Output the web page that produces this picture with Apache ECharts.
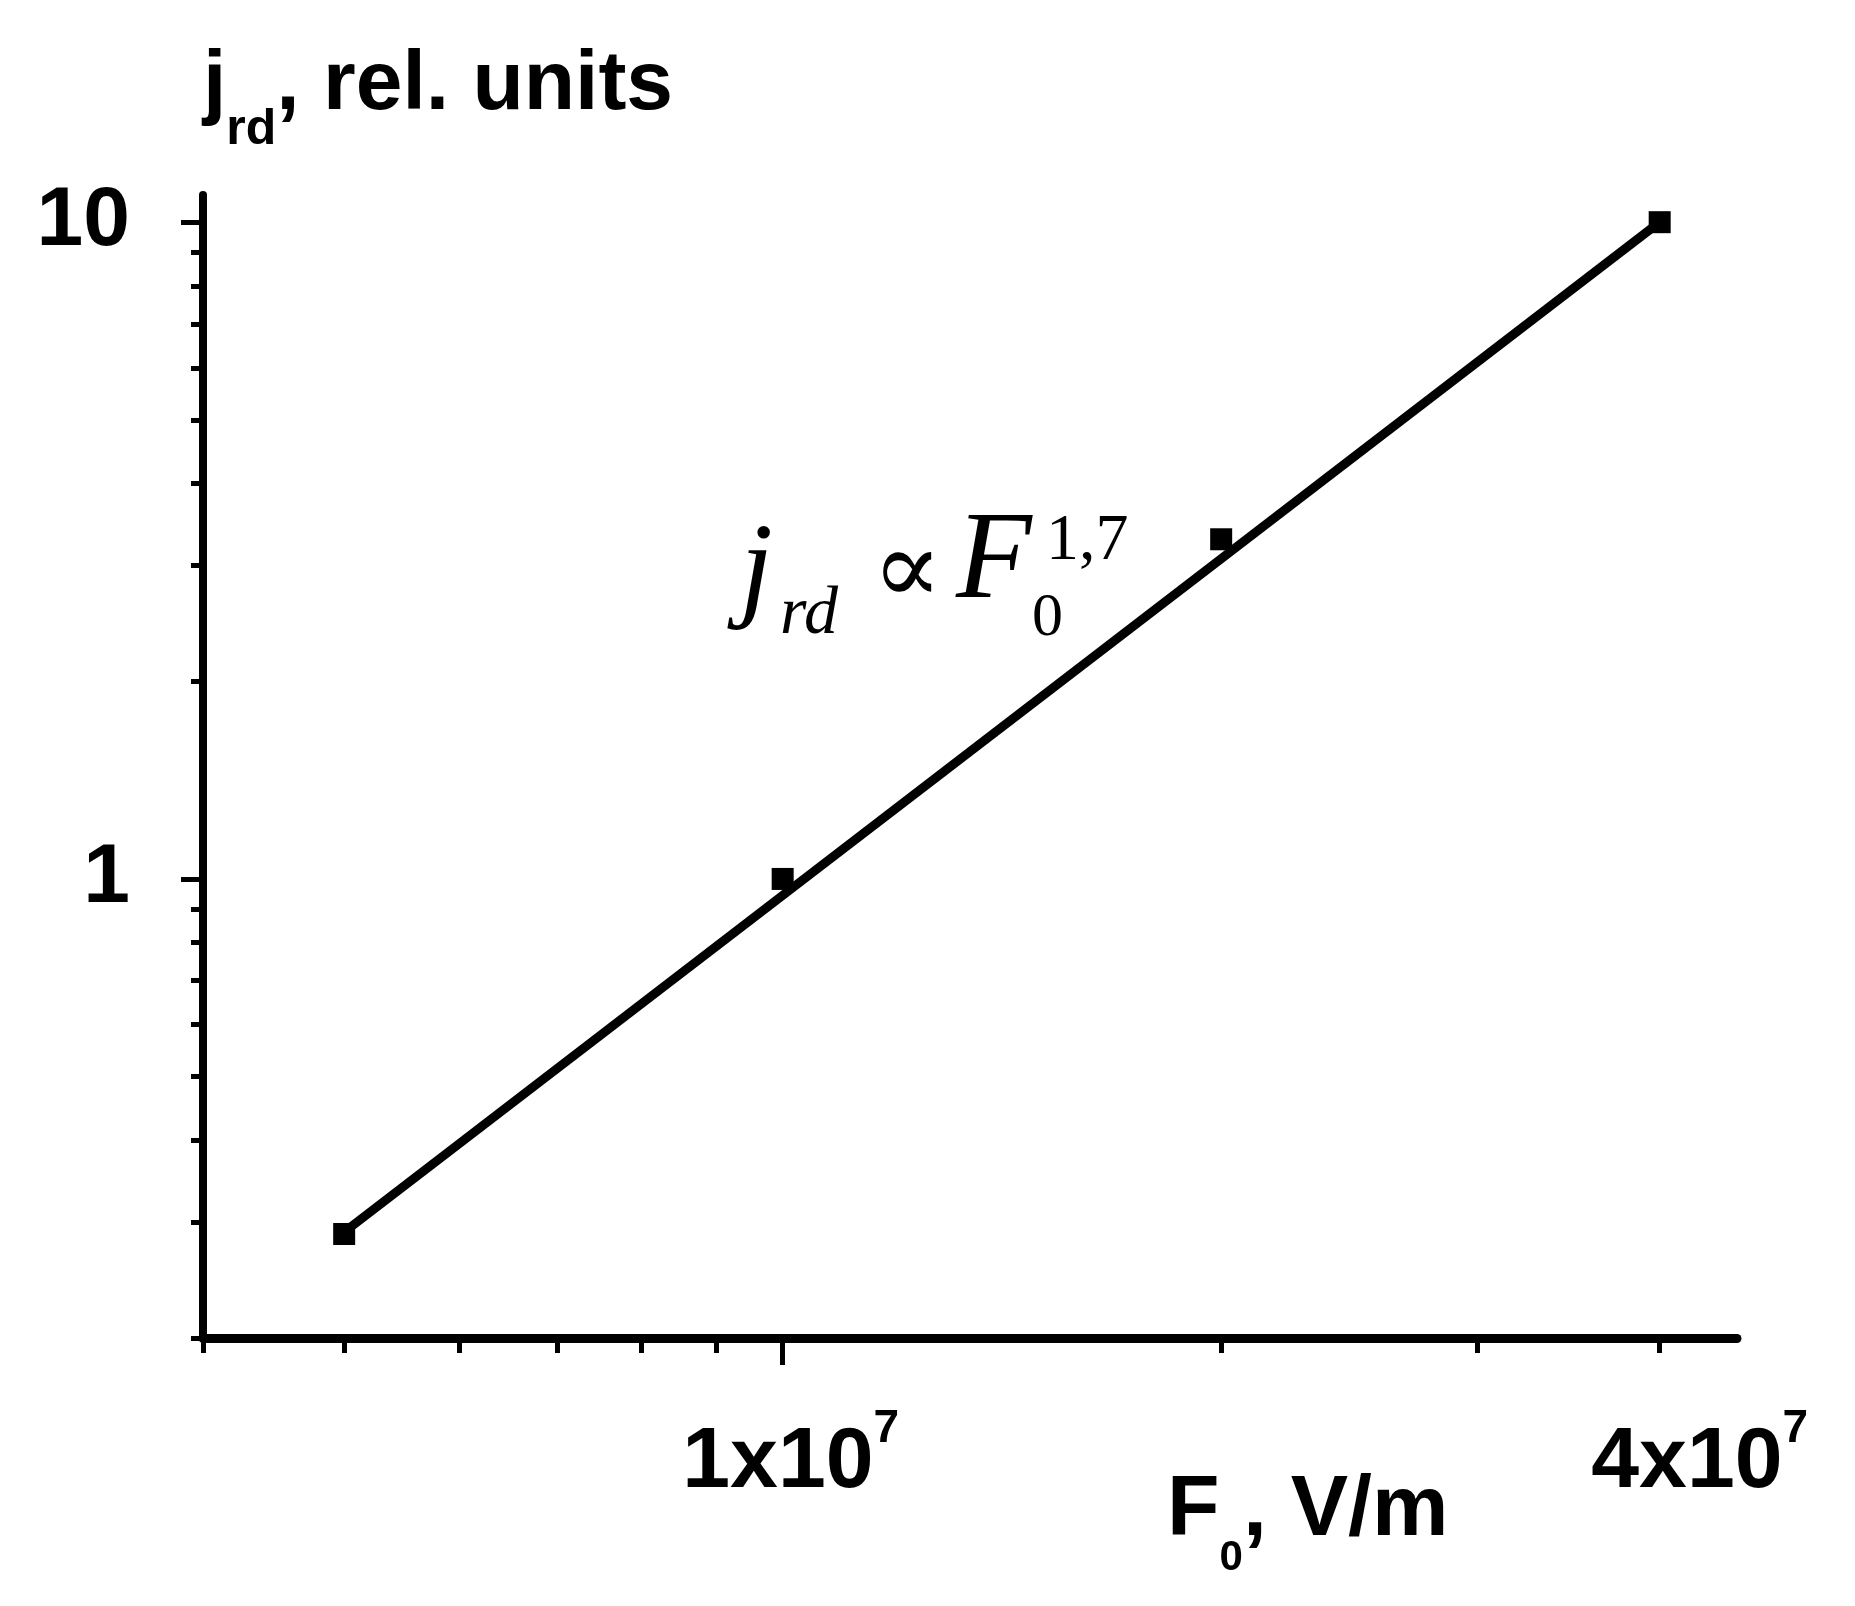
<!DOCTYPE html>
<html>
<head>
<meta charset="utf-8">
<title>j_rd vs F0</title>
<script src="https://cdn.jsdelivr.net/npm/echarts@6/dist/echarts.min.js"></script>
<style>
  html, body { margin: 0; padding: 0; background: #fff; }
  #chart { width: 1855px; height: 1606px; }
</style>
</head>
<body>
<div id="chart"></div>
<script>
// measured points, F0 in V/m, j_rd in rel. units
const fieldValues = [5e6, 1e7, 2e7, 4e7];
const currentValues = [0.288, 1.0, 3.29, 10.0];
// fitted power law j ~ F^1.7 (end points of the drawn line)
const fitField = [5e6, 4e7];
const fitCurrent = [0.29, 10.0];

// axis ranges
const xRange = [4e6, 4.52e7];
const yRange = [0.2, 11];

// tick labels and ticks
const xLabelValues = [1e7, 4e7];
const xMajorTicks = [1e7];
const xMinorTicks = [4e6, 5e6, 6e6, 7e6, 8e6, 9e6, 2e7, 3e7, 4e7];
const yLabelValues = [1, 10];
const yMajorTicks = [1, 10];
const yMinorTicks = [0.2, 0.3, 0.4, 0.5, 0.6, 0.7, 0.8, 0.9, 2, 3, 4, 5, 6, 7, 8, 9];

const lg = Math.log10;
const SANS = 'Arial, "Liberation Sans", sans-serif';
const SERIF = '"Times New Roman", "Liberation Serif", "DejaVu Serif", serif';

var myChart = echarts.init(document.getElementById('chart'));

var option = {
  animation: false,
  backgroundColor: '#fff',
  grid: {
    left: 203,
    right: 118,
    top: 195,
    bottom: 268,
    containLabel: false,
    outerBoundsMode: 'none'
  },
  xAxis: [{
    type: 'value',
    min: lg(xRange[0]),
    max: lg(xRange[1]),
    position: 'bottom',
    splitLine: { show: false },
    axisLine: { onZero: false, lineStyle: { color: '#000', width: 9 } },
    axisTick: { customValues: xMajorTicks.map(lg), length: 27, lineStyle: { color: '#000', width: 5 } },
    axisLabel: {
      customValues: xLabelValues.map(lg),
      margin: 68,
      padding: [0, 0, 0, 16],
      formatter: function (v) {
        var e = Math.floor(v + 1e-9);
        var m = Math.round(Math.pow(10, v - e));
        // the last label sits a bit further right in the original
        var k = m === 1 ? 'm' : 'mr';
        return '{' + k + '|' + m + 'x10}{s|' + e + '}';
      },
      rich: {
        m: { fontFamily: SANS, fontWeight: 'bold', fontSize: 86, lineHeight: 100, verticalAlign: 'bottom', color: '#000' },
        mr: { fontFamily: SANS, fontWeight: 'bold', fontSize: 86, lineHeight: 100, verticalAlign: 'bottom', color: '#000', padding: [0, 0, 0, 64] },
        s: { fontFamily: SANS, fontWeight: 'bold', fontSize: 46, lineHeight: 23, verticalAlign: 'top', color: '#000' }
      }
    },
    name: '{f|F}{sub|0}{t|, V/m}',
    nameLocation: 'end',
    nameGap: -570,
    nameMoveOverlap: false,
    nameTextStyle: {
      align: 'left',
      verticalAlign: 'top',
      padding: [130, 0, 0, 0],
      rich: {
        f: { fontFamily: SANS, fontWeight: 'bold', fontSize: 86, lineHeight: 86, verticalAlign: 'top', color: '#000' },
        sub: { fontFamily: SANS, fontWeight: 'bold', fontSize: 42, lineHeight: 111, verticalAlign: 'bottom', color: '#000' },
        t: { fontFamily: SANS, fontWeight: 'bold', fontSize: 86, lineHeight: 86, verticalAlign: 'top', color: '#000' }
      }
    }
  }, {
    // minor ticks of F0
    type: 'value',
    min: lg(xRange[0]),
    max: lg(xRange[1]),
    position: 'bottom',
    splitLine: { show: false },
    axisLine: { show: false, onZero: false },
    axisTick: { customValues: xMinorTicks.map(lg), length: 15, lineStyle: { color: '#000', width: 5 } },
    axisLabel: { show: false }
  }],
  yAxis: [{
    type: 'value',
    min: lg(yRange[0]),
    max: lg(yRange[1]),
    position: 'left',
    splitLine: { show: false },
    axisLine: { onZero: false, lineStyle: { color: '#000', width: 8 } },
    axisTick: { customValues: yMajorTicks.map(lg), length: 22, lineStyle: { color: '#000', width: 5 } },
    axisLabel: {
      customValues: yLabelValues.map(lg),
      margin: 73,
      color: '#000',
      fontFamily: SANS,
      fontWeight: 'bold',
      fontSize: 84,
      formatter: function (v) {
        return String(Math.round(Math.pow(10, v)));
      }
    },
    name: '{j|j}{sub|rd}{t|, rel. units}',
    nameLocation: 'end',
    nameGap: 151,
    nameMoveOverlap: false,
    nameTextStyle: {
      align: 'left',
      verticalAlign: 'top',
      rich: {
        j: { fontFamily: SANS, fontWeight: 'bold', fontSize: 84, lineHeight: 84, verticalAlign: 'top', color: '#000' },
        sub: { fontFamily: SANS, fontWeight: 'bold', fontSize: 50, lineHeight: 111, verticalAlign: 'bottom', color: '#000' },
        t: { fontFamily: SANS, fontWeight: 'bold', fontSize: 84, lineHeight: 84, verticalAlign: 'top', color: '#000' }
      }
    }
  }, {
    // minor ticks of j_rd
    type: 'value',
    min: lg(yRange[0]),
    max: lg(yRange[1]),
    position: 'left',
    splitLine: { show: false },
    axisLine: { show: false, onZero: false },
    axisTick: { customValues: yMinorTicks.map(lg), length: 12, lineStyle: { color: '#000', width: 5 } },
    axisLabel: { show: false }
  }],
  series: [
    {
      name: 'fit',
      type: 'line',
      xAxisIndex: 0,
      yAxisIndex: 0,
      showSymbol: false,
      lineStyle: { color: '#000', width: 9 },
      data: fitField.map(function (f, i) { return [lg(f), lg(fitCurrent[i])]; }),
      z: 2
    },
    {
      name: 'data',
      type: 'scatter',
      xAxisIndex: 0,
      yAxisIndex: 0,
      symbol: 'rect',
      symbolSize: 22,
      itemStyle: { color: '#000', opacity: 1 },
      data: fieldValues.map(function (f, i) { return [lg(f), lg(currentValues[i])]; }),
      z: 3
    }
  ],
  graphic: {
    elements: [
      // j_rd ∝ F_0^{1,7}
      { type: 'text', x: 740, y: 574, style: { text: 'j', fontFamily: SERIF, fontStyle: 'italic', fontSize: 118, fill: '#000', align: 'left', verticalAlign: 'middle' } },
      { type: 'text', x: 780, y: 615, style: { text: 'rd', fontFamily: SERIF, fontStyle: 'italic', fontSize: 68, fill: '#000', align: 'left', verticalAlign: 'middle' } },
      { type: 'text', x: 872, y: 576, style: { text: '\u221D', fontFamily: SERIF, fontSize: 104, fill: '#000', align: 'left', verticalAlign: 'middle' } },
      { type: 'text', x: 956, y: 564, style: { text: 'F', fontFamily: SERIF, fontStyle: 'italic', fontSize: 124, fill: '#000', align: 'left', verticalAlign: 'middle' } },
      { type: 'text', x: 1032, y: 619, style: { text: '0', fontFamily: SERIF, fontSize: 62, fill: '#000', align: 'left', verticalAlign: 'middle' } },
      { type: 'text', x: 1046, y: 542, style: { text: '1,7', fontFamily: SERIF, fontSize: 66, fill: '#000', align: 'left', verticalAlign: 'middle' } }
    ]
  }
};

myChart.setOption(option);
window.addEventListener('resize', function () {
  if (myChart) {
    myChart.resize();
  }
});
</script>
</body>
</html>
